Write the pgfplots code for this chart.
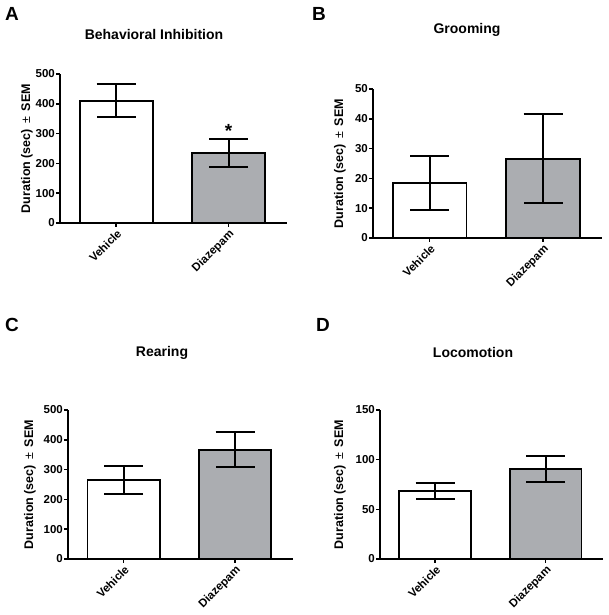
\documentclass[border=0pt]{standalone}
\usepackage{pgfplots}
\pgfplotsset{compat=1.18}
\usepackage{fontspec}
\setmainfont{Liberation Sans}
\definecolor{bargray}{RGB}{171,173,177}
\pgfplotsset{
  ylab/.style={every axis y label/.style={at={(axis description cs:0,0.5)}, xshift=#1, rotate=90, anchor=center, font=\bfseries\fontsize{12.5}{14}\selectfont}},
  panel/.style={
    scale only axis, anchor=south west,
    axis lines*=left,
    axis line style={line width=1.8pt},
    every tick/.style={black, line width=1.5pt},
    tick align=outside, major tick length=4pt,
    xmin=-0.5, xmax=1.52, ymin=0,
    xtick={0,1}, xticklabels={Vehicle,Diazepam},
    x tick label style={rotate=45, anchor=north east, inner sep=1pt, font=\bfseries\fontsize{11.5}{13}\selectfont},
    y tick label style={inner sep=1pt, font=\bfseries\fontsize{11.5}{13}\selectfont},
    /pgf/number format/assume math mode=true,
    ylabel={Duration (sec) \,{\mdseries ±}\, SEM},
    ybar, bar shift=0pt, bar width=0.65,
    clip=false,
  },
  vbar/.style={fill=white, draw=black, line width=1.8pt,
    error bars/.cd, y dir=both, y explicit,
    error bar style={line width=1.9pt, black},
    error mark options={rotate=90, mark size=19.5pt, line width=1.9pt, black}},
  dbar/.style={fill=bargray, draw=black, line width=1.8pt,
    error bars/.cd, y dir=both, y explicit,
    error bar style={line width=1.9pt, black},
    error mark options={rotate=90, mark size=19.5pt, line width=1.9pt, black}},
}
\begin{document}
\begin{tikzpicture}
\useasboundingbox (0pt,0pt) rectangle (608pt,615pt);
% Panel A
\begin{axis}[panel, at={(60pt,392pt)}, width=227pt, height=149pt, ymax=500, ytick={0,100,...,500}, ylab=-33pt]
\addplot[vbar] coordinates {(0,410) +- (0,55)};
\addplot[dbar] coordinates {(1,235) +- (0,48)};
\node[font=\bfseries\fontsize{19}{20}\selectfont] at (axis cs:1,310) {*};
\end{axis}
% Panel B
\begin{axis}[panel, at={(373pt,377pt)}, width=229pt, height=149pt, ymax=50, ytick={0,10,...,50}, ylab=-33pt]
\addplot[vbar] coordinates {(0,18.4) +- (0,9)};
\addplot[dbar] coordinates {(1,26.6) +- (0,15)};
\end{axis}
% Panel C
\begin{axis}[panel, at={(68pt,56pt)}, width=225pt, height=149pt, ymax=500, ytick={0,100,...,500}, ylab=-38pt]
\addplot[vbar] coordinates {(0,265) +- (0,47.5)};
\addplot[dbar] coordinates {(1,367) +- (0,58)};
\end{axis}
% Panel D
\begin{axis}[panel, at={(380pt,56pt)}, width=223pt, height=149pt, ymax=150, ytick={0,50,100,150}, ylab=-40pt]
\addplot[vbar] coordinates {(0,68.6) +- (0,8.2)};
\addplot[dbar] coordinates {(1,90.8) +- (0,13)};
\end{axis}
% Titles
\begin{scope}[every node/.style={font=\bfseries\fontsize{14}{16}\selectfont}]
\node at (154pt,580pt) {Behavioral Inhibition};
\node at (467pt,585pt) {Grooming};
\node at (162pt,262pt) {Rearing};
\node at (473pt,262pt) {Locomotion};
\end{scope}
% Panel letters
\begin{scope}[every node/.style={font=\bfseries\fontsize{19}{21}\selectfont}]
\node at (12pt,601pt) {A};
\node at (319pt,601pt) {B};
\node at (12pt,290pt) {C};
\node at (323pt,290pt) {D};
\end{scope}
\end{tikzpicture}
\end{document}
